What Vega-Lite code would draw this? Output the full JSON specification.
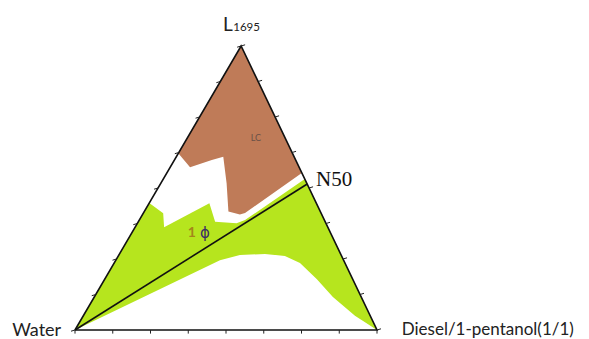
{
  "$schema": "https://vega.github.io/schema/vega-lite/v6.json",
  "width": 302,
  "height": 284,
  "autosize": "none",
  "padding": {"left": 75, "top": 46, "right": 212, "bottom": 9},
  "background": "white",
  "config": {"view": {"stroke": null}},
  "datasets": {
    "regions": [
      {"region": "LC", "i": 0, "x": 55.0, "y": 100},
      {"region": "LC", "i": 1, "x": 75.1, "y": 55.3},
      {"region": "LC", "i": 2, "x": 56.3, "y": 41.2},
      {"region": "LC", "i": 3, "x": 54.6, "y": 40.7},
      {"region": "LC", "i": 4, "x": 50.8, "y": 41.7},
      {"region": "LC", "i": 5, "x": 50.2, "y": 51.7},
      {"region": "LC", "i": 6, "x": 49.1, "y": 61.0},
      {"region": "LC", "i": 7, "x": 45.3, "y": 59.9},
      {"region": "LC", "i": 8, "x": 38.1, "y": 57.3},
      {"region": "LC", "i": 9, "x": 34.2, "y": 62.2},
      {"region": "1phase", "i": 0, "x": 0, "y": 0},
      {"region": "1phase", "i": 1, "x": 24.6, "y": 44.7},
      {"region": "1phase", "i": 2, "x": 29.2, "y": 41.1},
      {"region": "1phase", "i": 3, "x": 29.5, "y": 36.2},
      {"region": "1phase", "i": 4, "x": 44.5, "y": 44.6},
      {"region": "1phase", "i": 5, "x": 46.4, "y": 38.1},
      {"region": "1phase", "i": 6, "x": 53.5, "y": 37.6},
      {"region": "1phase", "i": 7, "x": 56.3, "y": 38.7},
      {"region": "1phase", "i": 8, "x": 76.1, "y": 53.2},
      {"region": "1phase", "i": 9, "x": 100, "y": 0},
      {"region": "1phase", "i": 10, "x": 92.7, "y": 5.0},
      {"region": "1phase", "i": 11, "x": 85.4, "y": 11.6},
      {"region": "1phase", "i": 12, "x": 80.1, "y": 17.9},
      {"region": "1phase", "i": 13, "x": 74.5, "y": 23.6},
      {"region": "1phase", "i": 14, "x": 69.5, "y": 26.1},
      {"region": "1phase", "i": 15, "x": 62.9, "y": 26.8},
      {"region": "1phase", "i": 16, "x": 54.6, "y": 26.4},
      {"region": "1phase", "i": 17, "x": 48.0, "y": 24.6}
    ],
    "frame": [
      {"path": "triangle", "i": 0, "x": 0, "y": 0},
      {"path": "triangle", "i": 1, "x": 100, "y": 0},
      {"path": "triangle", "i": 2, "x": 55, "y": 100},
      {"path": "triangle", "i": 3, "x": 0, "y": 0},
      {"path": "N50 line", "i": 0, "x": 0, "y": 0},
      {"path": "N50 line", "i": 1, "x": 76.9, "y": 51.4}
    ],
    "ticks": [
      {"edge": "left", "x": 0, "y": 0},
      {"edge": "left", "x": 6.875, "y": 12.5},
      {"edge": "left", "x": 13.75, "y": 25},
      {"edge": "left", "x": 20.625, "y": 37.5},
      {"edge": "left", "x": 27.5, "y": 50},
      {"edge": "left", "x": 34.375, "y": 62.5},
      {"edge": "left", "x": 41.25, "y": 75},
      {"edge": "left", "x": 48.125, "y": 87.5},
      {"edge": "left", "x": 55, "y": 100},
      {"edge": "bottom", "x": 0, "y": 0},
      {"edge": "bottom", "x": 12.5, "y": 0},
      {"edge": "bottom", "x": 25, "y": 0},
      {"edge": "bottom", "x": 37.5, "y": 0},
      {"edge": "bottom", "x": 50, "y": 0},
      {"edge": "bottom", "x": 62.5, "y": 0},
      {"edge": "bottom", "x": 75, "y": 0},
      {"edge": "bottom", "x": 87.5, "y": 0},
      {"edge": "bottom", "x": 100, "y": 0},
      {"edge": "right", "x": 100, "y": 0},
      {"edge": "right", "x": 94.375, "y": 12.5},
      {"edge": "right", "x": 88.75, "y": 25},
      {"edge": "right", "x": 83.125, "y": 37.5},
      {"edge": "right", "x": 77.5, "y": 50},
      {"edge": "right", "x": 71.875, "y": 62.5},
      {"edge": "right", "x": 66.25, "y": 75},
      {"edge": "right", "x": 60.625, "y": 87.5},
      {"edge": "right", "x": 55, "y": 100}
    ]
  },
  "encoding": {
    "x": {"field": "x", "type": "quantitative", "scale": {"domain": [0, 100], "nice": false, "zero": false}, "axis": null},
    "y": {"field": "y", "type": "quantitative", "scale": {"domain": [0, 100], "nice": false, "zero": false}, "axis": null}
  },
  "layer": [
    {
      "data": {"name": "regions"},
      "transform": [{"filter": "datum.region === 'LC'"}],
      "mark": {"type": "line", "fill": "#bf7b58", "stroke": null, "strokeWidth": 0},
      "encoding": {"order": {"field": "i", "type": "quantitative"}}
    },
    {
      "data": {"name": "regions"},
      "transform": [{"filter": "datum.region === '1phase'"}],
      "mark": {"type": "line", "fill": "#b6e51e", "stroke": null, "strokeWidth": 0},
      "encoding": {"order": {"field": "i", "type": "quantitative"}}
    },
    {
      "data": {"name": "frame"},
      "mark": {"type": "line", "color": "#111111", "strokeWidth": 1.6},
      "encoding": {
        "detail": {"field": "path", "type": "nominal"},
        "order": {"field": "i", "type": "quantitative"}
      }
    },
    {
      "data": {"name": "ticks"},
      "mark": {"type": "point", "filled": false, "color": "#222222", "strokeWidth": 1, "size": 64, "opacity": 1},
      "encoding": {
        "shape": {
          "field": "edge",
          "type": "nominal",
          "scale": {"domain": ["left", "bottom", "right"], "range": ["M-1,0.3L0,0", "M0,0L0,0.9", "M0,0L1,-0.3"]},
          "legend": null
        }
      }
    },
    {
      "data": {"values": [{"label": "L", "x": 49.0, "y": 105.3}]},
      "mark": {"type": "text", "align": "left", "baseline": "alphabetic", "font": "Lato", "fontSize": 19, "color": "#222222"},
      "encoding": {"text": {"field": "label"}}
    },
    {
      "data": {"values": [{"label": "1695", "x": 52.4, "y": 105.3}]},
      "mark": {"type": "text", "align": "left", "baseline": "alphabetic", "font": "Lato", "fontSize": 11.5, "color": "#222222"},
      "encoding": {"text": {"field": "label"}}
    },
    {
      "data": {"values": [{"label": "N50", "x": 79.8, "y": 50.6}]},
      "mark": {"type": "text", "align": "left", "baseline": "alphabetic", "font": "Liberation Serif", "fontSize": 21, "color": "#111111"},
      "encoding": {"text": {"field": "label"}}
    },
    {
      "data": {"values": [{"label": "Water", "x": -4.6, "y": -2.2}]},
      "mark": {"type": "text", "align": "right", "baseline": "alphabetic", "font": "Lato", "fontSize": 18, "color": "#222222"},
      "encoding": {"text": {"field": "label"}}
    },
    {
      "data": {"values": [{"label": "Diesel/1-pentanol(1/1)", "x": 108.2, "y": -1.6}]},
      "mark": {"type": "text", "align": "left", "baseline": "alphabetic", "font": "Lato", "fontSize": 17, "color": "#222222"},
      "encoding": {"text": {"field": "label"}}
    },
    {
      "data": {"values": [{"label": "LC", "x": 59.9, "y": 67.6}]},
      "mark": {"type": "text", "align": "center", "baseline": "middle", "font": "Lato", "fontSize": 9, "color": "#6a5047"},
      "encoding": {"text": {"field": "label"}}
    },
    {
      "data": {"values": [{"label": "1", "x": 38.7, "y": 34.0}]},
      "mark": {"type": "text", "align": "center", "baseline": "middle", "font": "Lato", "fontSize": 14, "fontWeight": "bold", "color": "#a4861a"},
      "encoding": {"text": {"field": "label"}}
    },
    {
      "data": {"values": [{"label": "ϕ", "x": 43.0, "y": 34.0}]},
      "mark": {"type": "text", "align": "center", "baseline": "middle", "font": "DejaVu Sans", "fontSize": 15, "color": "#3b2d66"},
      "encoding": {"text": {"field": "label"}}
    }
  ]
}
